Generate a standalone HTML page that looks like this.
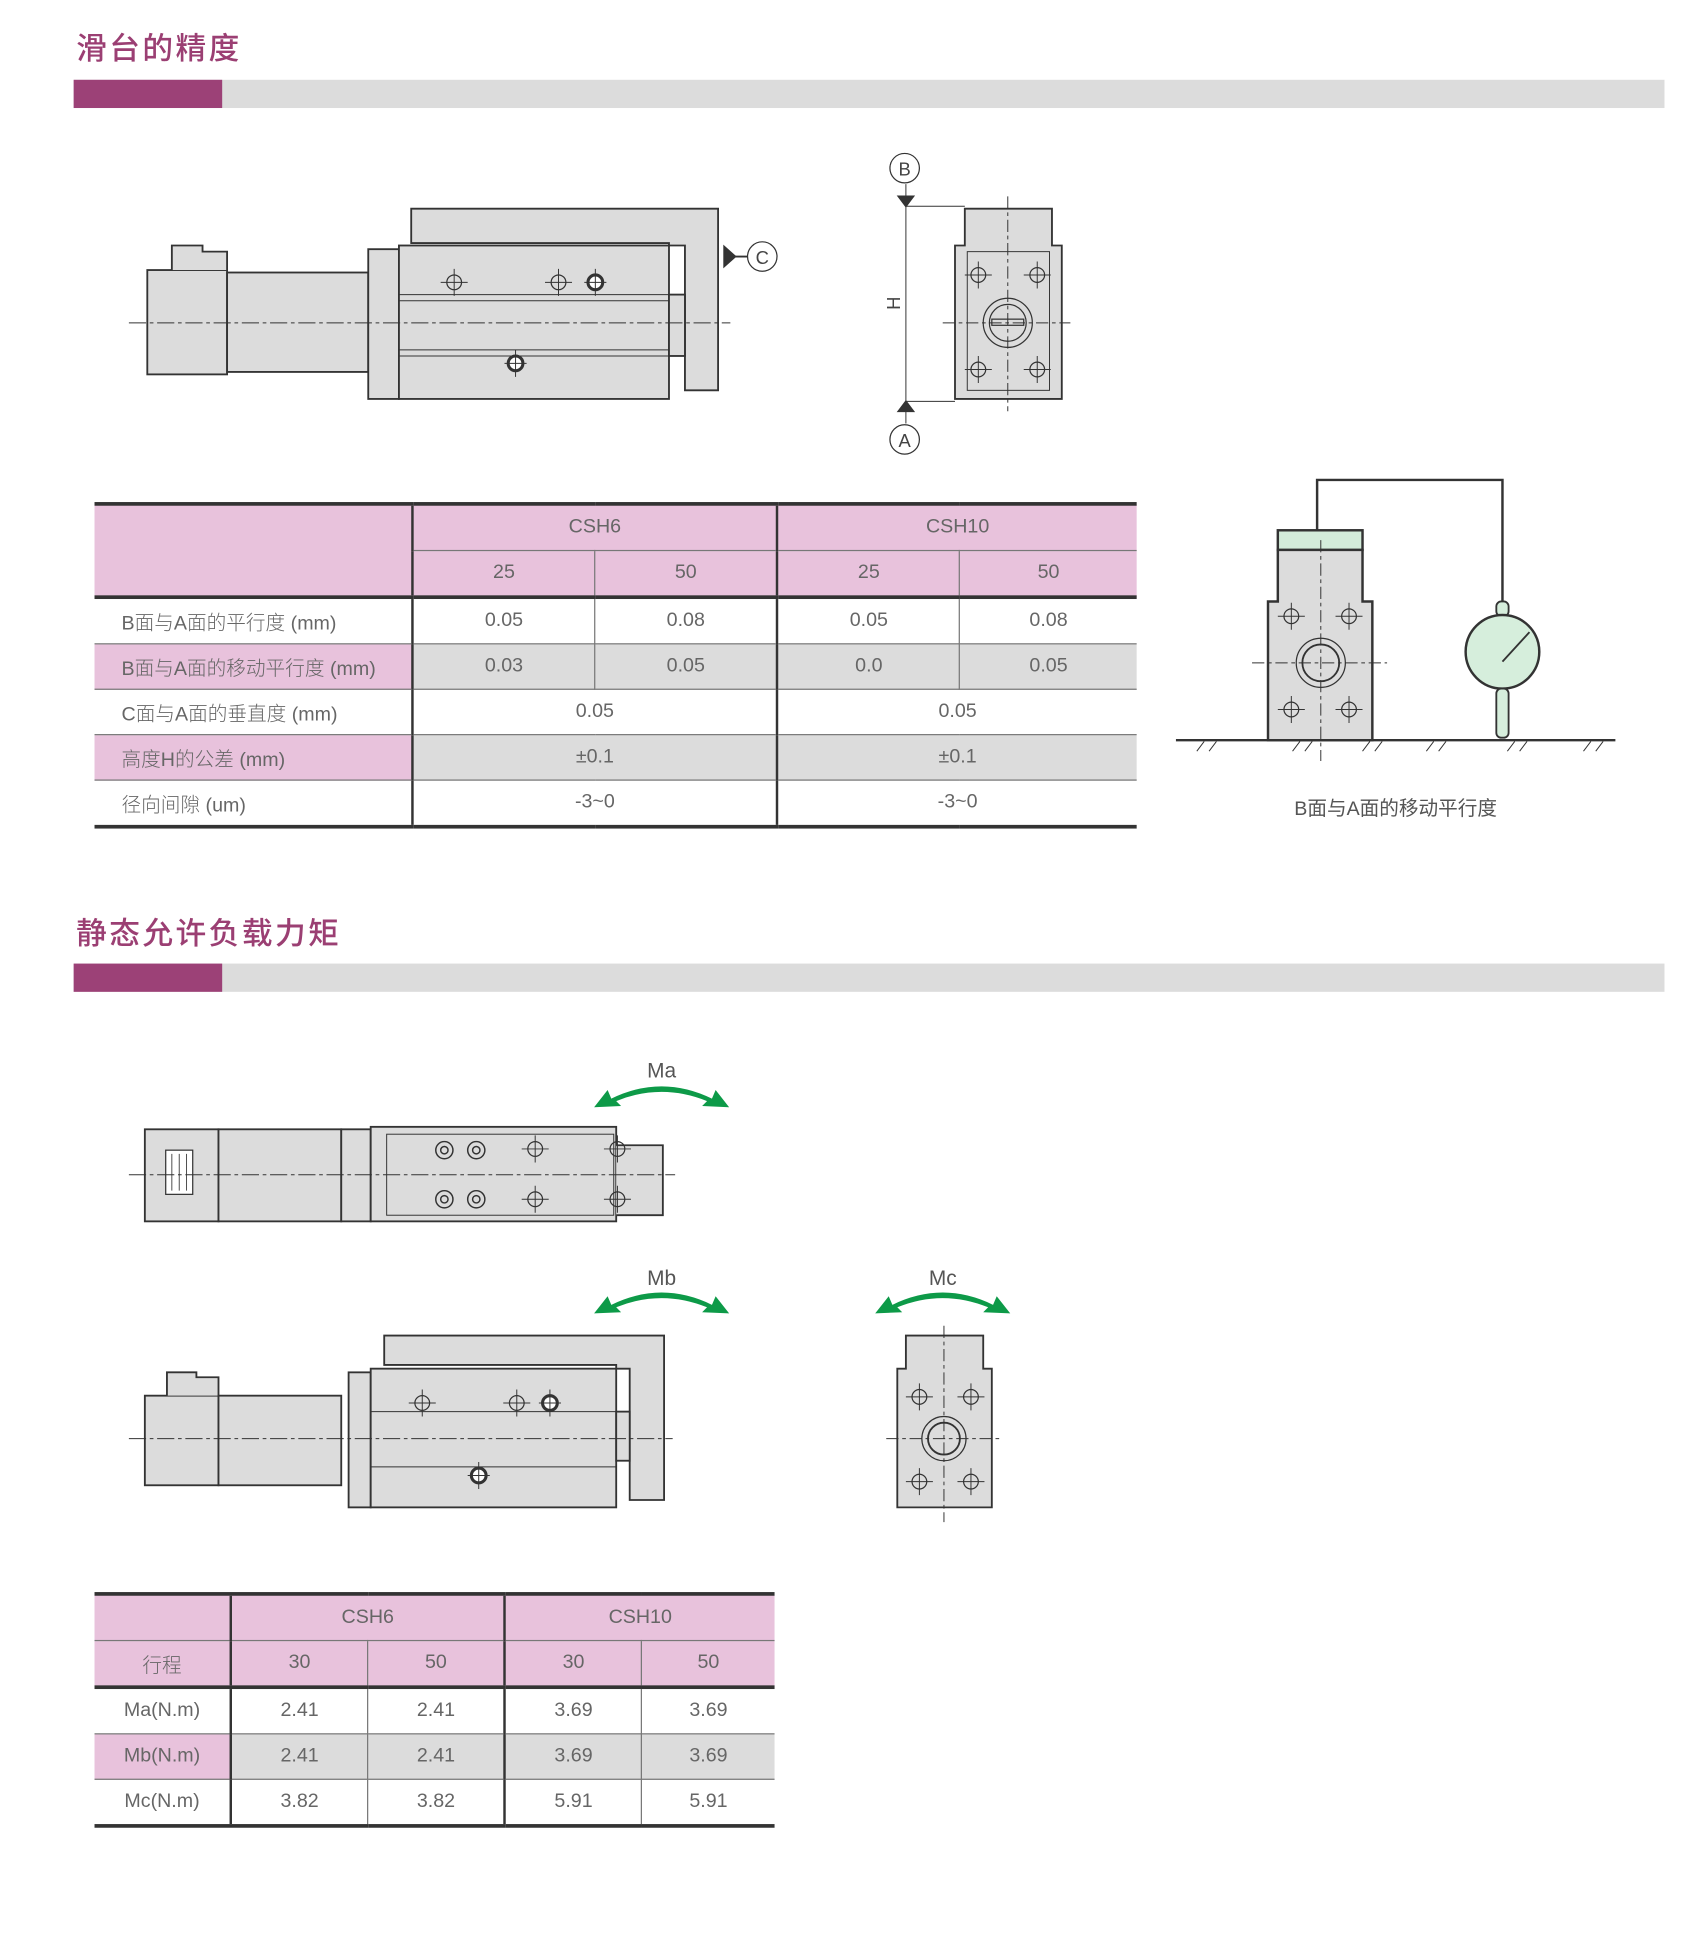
<!DOCTYPE html>
<html><head><meta charset="utf-8"><style>
html,body{margin:0;padding:0;background:#fff;width:1689px;height:1924px;overflow:hidden}
#w{position:absolute;left:0;top:0;width:1386px;height:1579px;transform:scale(1.2275);transform-origin:0 0;font-family:"Liberation Sans","Noto Sans CJK SC",sans-serif}
.t{position:absolute;color:#9b3f73;font-size:25px;letter-spacing:2px;font-weight:500}
.bar{position:absolute;left:60px;width:1296px;height:23px;background:#dcdcdc}
.bar i{display:block;width:121px;height:23px;background:#9c4177}
table{position:absolute;border-collapse:collapse;color:#666;font-size:16px;font-family:"Liberation Sans Narrow","Liberation Sans","Noto Sans CJK SC",sans-serif}
td{height:36px;padding:0;text-align:center;border:1px solid #777;border-top:1px solid #999;font-weight:300}
td.l{text-align:left;padding-left:22px;border-left:none}
tr td:last-child{border-right:none}
.p{background:#e8c2dc}.g{background:#dcdcdc}
.bt{border-bottom:3px solid #333}.tp td{border-top:3px solid #333}
.bv{border-left:2px solid #333}
</style></head><body><div id="w">
<div class="t" style="left:62px;top:20px">滑台的精度</div>
<div class="bar" style="top:65px"><i></i></div>
<div class="t" style="left:62px;top:741px">静态允许负载力矩</div>
<div class="bar" style="top:785px"><i></i></div>

<svg style="position:absolute;left:0;top:0" width="1386" height="1579" viewBox="0 0 1386 1579" fill="#dcdcdc" stroke="#333" stroke-width="1.5">
<defs>
<g id="hole"><circle r="6" fill="none" stroke-width="1"/><path d="M-11 0H11M0-11V11" stroke-width="0.8" fill="none"/></g>
<g id="hb"><circle r="6" fill="#fff" stroke-width="2.5"/><path d="M-9 0H9M0-11V11" stroke-width="0.8"/></g>
</defs>
<rect x="120" y="220" width="65" height="85"/>
<path d="M140 220V200H165V205H185V220"/>
<rect x="185" y="222" width="115" height="81"/>
<rect x="300" y="203" width="25" height="122"/>
<rect x="325" y="200" width="220" height="125"/>
<path d="M335 170H585V318H558V200H545V198H335Z"/>
<rect x="545" y="240" width="13" height="50"/>
<path d="M325 240H545M325 290H545M325 245H545M325 285H545" fill="none" stroke-width="0.8"/>
<use href="#hole" x="370" y="230"/><use href="#hole" x="455" y="230"/><use href="#hb" x="485" y="230"/><use href="#hb" x="420" y="296"/>
<path d="M105 263H595" stroke-dasharray="14 3 3 3" stroke-width="0.8" fill="none"/>
<path d="M590 209H609" fill="none"/><path d="M590 201V217L599 209Z" fill="#333"/>
<circle cx="621" cy="209" r="12" fill="#fff" stroke-width="1"/>
<text x="621" y="215" font-size="15" fill="#444" stroke="none" text-anchor="middle">C</text>
<path d="M786 170H857V200H865V325H778V200H786Z"/>
<rect x="788" y="205" width="67" height="113" fill="none" stroke-width="0.8"/>
<use href="#hole" x="797" y="224"/><use href="#hole" x="845" y="224"/><use href="#hole" x="797" y="301"/><use href="#hole" x="845" y="301"/>
<circle cx="821" cy="263" r="20" fill="none" stroke-width="1"/><circle cx="821" cy="263" r="15" fill="none" stroke-width="1"/><rect x="808" y="260" width="26" height="5" fill="none" stroke-width="1"/>
<path d="M821 160V335M768 263H872" stroke-dasharray="10 3 3 3" stroke-width="0.8" fill="none"/>
<path d="M738 150V345M738 168H786M738 327H778" stroke-width="0.8" fill="none"/>
<path d="M732 160L744 160L738 168Z M732 335L744 335L738 327Z" fill="#333"/>
<circle cx="737" cy="137" r="12" fill="#fff" stroke-width="1"/><circle cx="737" cy="358" r="12" fill="#fff" stroke-width="1"/>
<g font-size="15" fill="#444" stroke="none" text-anchor="middle"><text x="737" y="143">B</text><text x="737" y="364">A</text><text x="0" y="0" transform="translate(733 247) rotate(-90)">H</text></g>
<path d="M1073 432V391H1224V500" fill="none" stroke-width="2"/>
<rect x="1041" y="432" width="69" height="16" fill="#d3ecda" stroke-width="2"/>
<path d="M1041 448H1110V490H1118V603H1033V490H1041Z" stroke-width="2"/>
<use href="#hole" x="1052" y="502"/><use href="#hole" x="1099" y="502"/><use href="#hole" x="1052" y="578"/><use href="#hole" x="1099" y="578"/>
<circle cx="1076" cy="540" r="20" fill="none" stroke-width="1"/><circle cx="1076" cy="540" r="15" fill="none"/>
<path d="M1076 440V620M1020 540H1130" stroke-dasharray="10 3 3 3" stroke-width="0.8" fill="none"/>
<rect x="1219" y="490" width="10" height="12" rx="4" fill="#d6eedc"/>
<circle cx="1224" cy="531" r="30" fill="#d6eedc" stroke-width="2"/>
<path d="M1224 539L1246 515" fill="none" stroke-width="1.5"/>
<rect x="1219" y="561" width="10" height="40" rx="4" fill="#d6eedc"/>
<path d="M958 603H1316" stroke-width="2" fill="none"/>
<path d="M975 612l6-8M985 612l6-8M1053 612l6-8M1063 612l6-8M1110 612l6-8M1120 612l6-8M1162 612l6-8M1172 612l6-8M1228 612l6-8M1238 612l6-8M1290 612l6-8M1300 612l6-8" stroke-width="0.8" fill="none"/>
<rect x="118" y="920" width="60" height="75"/>
<rect x="178" y="920" width="100" height="75"/>
<rect x="278" y="920" width="24" height="75"/>
<rect x="302" y="918" width="200" height="77"/>
<path d="M502 933H540V990H502" />
<rect x="315" y="924" width="185" height="66" fill="none" stroke-width="0.8"/>
<rect x="135" y="937" width="22" height="36" fill="#fff" stroke-width="1"/>
<path d="M140 940V970M146 940V970M152 940V970" stroke-width="0.7" fill="none"/>
<g fill="none" stroke-width="1.2"><circle cx="362" cy="937" r="7"/><circle cx="362" cy="937" r="3"/><circle cx="388" cy="937" r="7"/><circle cx="388" cy="937" r="3"/><circle cx="362" cy="977" r="7"/><circle cx="362" cy="977" r="3"/><circle cx="388" cy="977" r="7"/><circle cx="388" cy="977" r="3"/></g>
<use href="#hole" x="436" y="936"/><use href="#hole" x="503" y="936"/><use href="#hole" x="436" y="977"/><use href="#hole" x="503" y="977"/>
<path d="M105 957H550" stroke-dasharray="14 3 3 3" stroke-width="0.8" fill="none"/>
<rect x="118" y="1137" width="60" height="73"/>
<path d="M136 1137V1118H160V1122H178V1137"/>
<rect x="178" y="1137" width="100" height="73"/>
<rect x="284" y="1118" width="18" height="110"/>
<rect x="302" y="1115" width="200" height="113"/>
<path d="M313 1088H541V1222H513V1115H502V1112H313Z"/>
<rect x="502" y="1150" width="11" height="40"/>
<path d="M302 1150H502M302 1195H502" fill="none" stroke-width="0.8"/>
<use href="#hole" x="344" y="1143"/><use href="#hole" x="421" y="1143"/><use href="#hb" x="448" y="1143"/><use href="#hb" x="390" y="1202"/>
<path d="M105 1172H548" stroke-dasharray="14 3 3 3" stroke-width="0.8" fill="none"/>
<path d="M738 1088H801V1115H808V1228H731V1115H738Z"/>
<use href="#hole" x="749" y="1138"/><use href="#hole" x="791" y="1138"/><use href="#hole" x="749" y="1207"/><use href="#hole" x="791" y="1207"/>
<circle cx="769" cy="1172" r="18" fill="none" stroke-width="1"/><circle cx="769" cy="1172" r="13" fill="none"/>
<path d="M769 1080V1240M722 1172H815" stroke-dasharray="10 3 3 3" stroke-width="0.8" fill="none"/>
<g fill="#0d9a48" stroke="none">
<path d="M498 895Q539 875 580 895L583 888L594 902L572 901L576 897Q539 882 502 897L506 901L484 902L495 888Z"/>
<path d="M498 1063Q539 1043 580 1063L583 1056L594 1070L572 1069L576 1065Q539 1050 502 1065L506 1069L484 1070L495 1056Z"/>
<path d="M727 1063Q768 1043 809 1063L812 1056L823 1070L801 1069L805 1065Q768 1050 731 1065L735 1069L713 1070L724 1056Z"/>
</g>
<g font-size="17" fill="#555" stroke="none" text-anchor="middle" font-family="Liberation Sans Narrow,Liberation Sans,sans-serif"><text x="539" y="878">Ma</text><text x="539" y="1047">Mb</text><text x="768" y="1047">Mc</text>
<text x="1137" y="664" font-family="Liberation Sans,Noto Sans CJK SC,sans-serif" font-size="16">B面与A面的移动平行度</text></g>
</svg>

<table style="left:77px;top:409px;width:849px">
<tr class="tp"><td class="p" rowspan="2" style="width:258px;border-left:none"></td><td class="p bv" colspan="2">CSH6</td><td class="p bv" colspan="2">CSH10</td></tr>
<tr><td class="p bv">25</td><td class="p">50</td><td class="p bv">25</td><td class="p">50</td></tr>
<tr class="tp"><td class="l">B面与A面的平行度 (mm)</td><td class="bv">0.05</td><td>0.08</td><td class="bv">0.05</td><td>0.08</td></tr>
<tr><td class="l p">B面与A面的移动平行度 (mm)</td><td class="g bv">0.03</td><td class="g">0.05</td><td class="g bv">0.0</td><td class="g">0.05</td></tr>
<tr><td class="l">C面与A面的垂直度 (mm)</td><td class="bv" colspan="2">0.05</td><td class="bv" colspan="2">0.05</td></tr>
<tr><td class="l p">高度H的公差 (mm)</td><td class="g bv" colspan="2">±0.1</td><td class="g bv" colspan="2">±0.1</td></tr>
<tr><td class="l bt">径向间隙 (um)</td><td class="bv bt" colspan="2">-3~0</td><td class="bv bt" colspan="2">-3~0</td></tr>
</table>

<table style="left:77px;top:1297px;width:554px">
<tr class="tp"><td class="p" style="width:110px;border-left:none"></td><td class="p bv" colspan="2">CSH6</td><td class="p bv" colspan="2">CSH10</td></tr>
<tr><td class="p" style="border-left:none">行程</td><td class="p bv">30</td><td class="p">50</td><td class="p bv">30</td><td class="p">50</td></tr>
<tr class="tp"><td style="border-left:none">Ma(N.m)</td><td class="bv">2.41</td><td>2.41</td><td class="bv">3.69</td><td>3.69</td></tr>
<tr><td class="p" style="border-left:none">Mb(N.m)</td><td class="g bv">2.41</td><td class="g">2.41</td><td class="g bv">3.69</td><td class="g">3.69</td></tr>
<tr><td class="bt" style="border-left:none">Mc(N.m)</td><td class="bv bt">3.82</td><td class="bt">3.82</td><td class="bv bt">5.91</td><td class="bt">5.91</td></tr>
</table>
</div></body></html>
